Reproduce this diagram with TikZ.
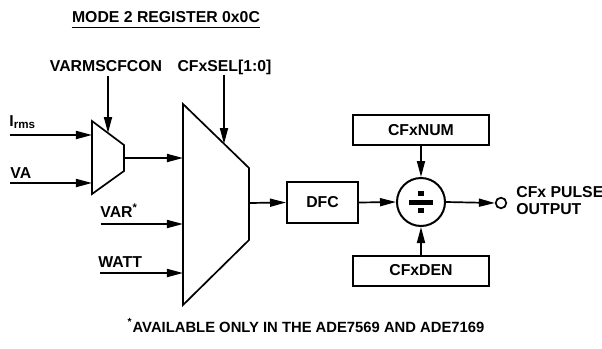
\documentclass[tikz,border=0pt]{standalone}
\usepackage{fontspec}
\setmainfont{Liberation Sans}
\usetikzlibrary{arrows.meta,positioning}

\tikzset{
  arr/.style={-{Triangle[length=8pt,width=4pt]}, line width=0.85pt},
  blk/.style={draw, line width=1pt, minimum width=68pt, minimum height=15pt, inner sep=0pt},
  lbl/.style={inner sep=0pt},
  mux/.style={draw, line width=0.85pt, line join=miter},
}

\begin{document}
\begin{tikzpicture}[x=0.5pt, y=-0.5pt, font=\bfseries\fontsize{7.9}{8.5}\selectfont]
	  \useasboundingbox (0,0) rectangle (602,349);

	  % title
	  \node[lbl, anchor=base] (title) at (166,22) {MODE 2 REGISTER 0x0C};
	  \draw[line width=0.8pt] ([yshift=-2.5pt]title.south west) -- ([yshift=-2.5pt]title.south east);

	  % select labels
	  \node[lbl, anchor=base] (varms) at (106,71) {VARMSCFCON};
	  \node[lbl, anchor=base] (cfxsel) at (224.5,71) {CFxSEL[1:0]};

	  % multiplexers
	  \draw[mux] (92,121) -- (124,145) -- (124,171) -- (92,194) -- cycle;
	  \draw[mux] (183,104) -- (249,168) -- (249,240) -- (183,305) -- cycle;

	  \coordinate (sel1) at (108,133);
	  \coordinate (sel2) at (224,144);
	  \coordinate (m1in1) at (92,135);
	  \coordinate (m1in2) at (92,183);
	  \coordinate (m1out) at (124,158);
	  \coordinate (m2in1) at (183,158);
	  \coordinate (m2in2) at (183,224);
	  \coordinate (m2in3) at (183,273);
	  \coordinate (m2out) at (249,203);

	  % inputs
	  \coordinate (irms) at (10,135);
	  \coordinate (va) at (10,183);
	  \coordinate (var) at (101,224);
	  \coordinate (watt) at (100,273);
	  \node[lbl, above right=3pt and -0.5pt of irms] (irmslbl) {I{\fontsize{5.8}{6}\selectfont\raisebox{-1.2pt}{rms}}};
	  \node[lbl, above right=2.2pt and 0pt of va] (valbl) {VA};
	  \node[lbl, above right=3pt and -0.5pt of var] (varlbl) {VAR\textsuperscript{*}};
	  \node[lbl, above right=2.5pt and -1pt of watt] (wattlbl) {WATT};

	  % blocks
	  \node[blk, minimum width=35.5pt, minimum height=20.5pt] (dfc) at (322.5,202.5) {DFC};
	  \node[blk] (num) at (421,130) {CFxNUM};
	  \node[blk] (den) at (421,270.5) {CFxDEN};
	  \node[draw, circle, line width=1pt, minimum size=24pt, inner sep=0pt] (div) at (421,202) {};
	  \fill ([xshift=-6pt,yshift=-1.25pt]div.center) rectangle ([xshift=6pt,yshift=1.25pt]div.center);
	  \fill ([xshift=-1.5pt,yshift=3pt]div.center) rectangle ([xshift=1.5pt,yshift=5.5pt]div.center);
	  \fill ([xshift=-1.5pt,yshift=-3pt]div.center) rectangle ([xshift=1.5pt,yshift=-5.5pt]div.center);
	  \node[draw, circle, line width=0.85pt, minimum size=5.3pt, inner sep=0pt] (pout) at (501,203) {};
	  \node[lbl, anchor=west, align=left] (outlbl) at (516,201) {CFx PULSE\\OUTPUT};

	  % connections
	  \draw[arr] ([yshift=-2pt]varms.south -| sel1) -- (sel1);
	  \draw[arr] (cfxsel.south -| sel2) -- (sel2);
	  \draw[arr] (irms) -- (m1in1);
	  \draw[arr] (va) -- (m1in2);
	  \draw[arr] (m1out) -- (m2in1);
	  \draw[arr] (var) -- (m2in2);
	  \draw[arr] (watt) -- (m2in3);
	  \draw[arr] (m2out) -- (dfc.west);
	  \draw[arr] (dfc.east) -- (div.west);
	  \draw[arr] (num.south) -- (div.north);
	  \draw[arr] (den.north) -- (div.south);
	  \draw[arr] (div.east) -- (pout.west);

	  % footnote
	  \node[lbl, anchor=base, font=\bfseries\fontsize{7.4}{8}\selectfont] (note) at (306,332) {\textsuperscript{*}AVAILABLE ONLY IN THE ADE7569 AND ADE7169};
	\end{tikzpicture}
\end{document}
